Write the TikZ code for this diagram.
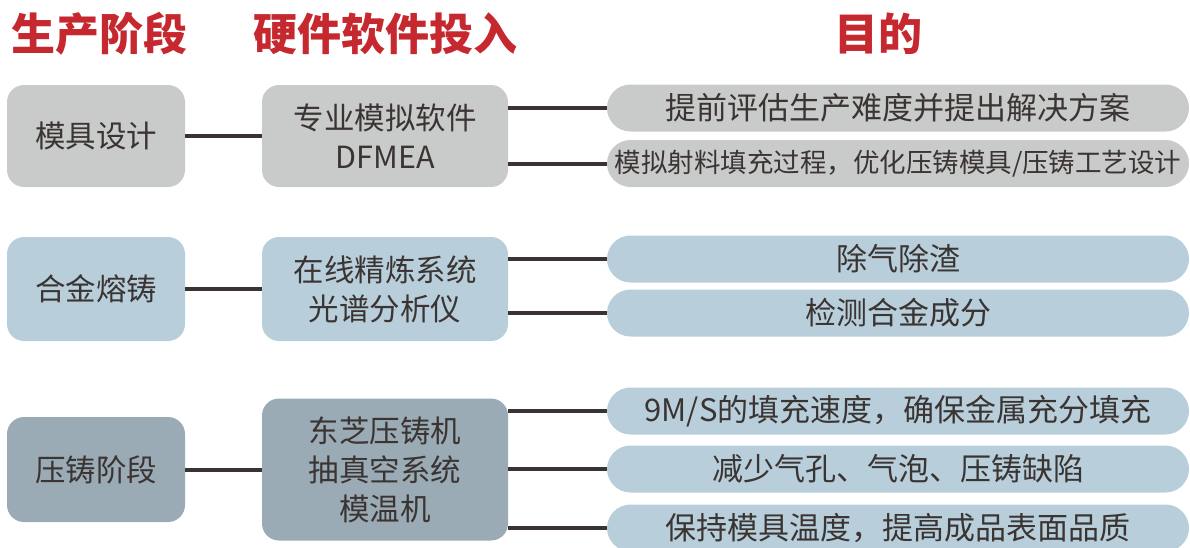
\documentclass[tikz,border=0pt]{standalone}
\usepackage{fontspec}
\setmainfont{Noto Sans CJK SC}
\definecolor{txt}{RGB}{58,52,50}
\definecolor{hred}{RGB}{198,40,47}
\definecolor{cgray}{RGB}{201,202,202}
\definecolor{cblue}{RGB}{184,207,219}
\definecolor{cslate}{RGB}{155,171,181}
\definecolor{lne}{RGB}{58,51,50}
\begin{document}
\begin{tikzpicture}[x=1pt,y=-1pt,
  hdr/.style={text=hred,font=\fontsize{44}{50}\selectfont\bfseries,inner sep=0pt},
  box/.style={rounded corners=17pt,text=txt,font=\fontsize{30.5}{39}\selectfont,align=center,inner sep=0pt},
  lbox/.style={box,minimum width=178pt},
  mbox/.style={box,minimum width=246pt},
  pill/.style={rounded corners=23.5pt,minimum width=582pt,minimum height=47pt,text=txt,font=\fontsize{31}{36}\selectfont,inner sep=0pt},
  conn/.style={draw=lne,line width=4pt}]
\useasboundingbox (0,0) rectangle (1190,547);
\clip (0,0) rectangle (1190,547);
% headers
\node[hdr] (h1) at (99,34) {生产阶段};
\node[hdr] (h2) at (385,34) {硬件软件投入};
\node[hdr] (h3) at (878,34) {目的};
% group 1
\node[lbox,fill=cgray,minimum height=102pt] (l1) at (96,136) {模具设计};
\node[mbox,fill=cgray,minimum height=102pt] (m1) at (385,136) {专业模拟软件\\DFMEA};
\node[pill,fill=cgray] (p11) at (898,108) {提前评估生产难度并提出解决方案};
\node[pill,fill=cgray,font=\fontsize{26.5}{32}\selectfont] (p12) at (898,163.5) {模拟射料填充过程，优化压铸模具/压铸工艺设计};
% group 2
\node[lbox,fill=cblue,minimum height=104pt] (l2) at (96,289) {合金熔铸};
\node[mbox,fill=cblue,minimum height=104pt] (m2) at (385,289) {在线精炼系统\\光谱分析仪};
\node[pill,fill=cblue] (p21) at (898,259) {除气除渣};
\node[pill,fill=cblue] (p22) at (898,313) {检测合金成分};
% group 3
\node[lbox,fill=cslate,minimum height=105pt] (l3) at (96,469.5) {压铸阶段};
\node[mbox,fill=cslate,minimum height=142pt] (m3) at (385,469.5) {东芝压铸机\\抽真空系统\\模温机};
\node[pill,fill=cblue] (p31) at (898,411) {9M/S的填充速度，确保金属充分填充};
\node[pill,fill=cblue] (p32) at (898,469) {减少气孔、气泡、压铸缺陷};
\node[pill,fill=cblue] (p33) at (898,528) {保持模具温度，提高成品表面品质};
% connectors
\draw[conn] (l1.east) -- (m1.west);
\draw[conn] (l2.east) -- (m2.west);
\draw[conn] (l3.east) -- (m3.west);
\draw[conn] (m1.east |- p11.west) -- (p11.west);
\draw[conn] (m1.east |- p12.west) -- (p12.west);
\draw[conn] (m2.east |- p21.west) -- (p21.west);
\draw[conn] (m2.east |- p22.west) -- (p22.west);
\draw[conn] (m3.east |- p31.west) -- (p31.west);
\draw[conn] (m3.east |- p32.west) -- (p32.west);
\draw[conn] (m3.east |- p33.west) -- (p33.west);
\end{tikzpicture}
\end{document}
